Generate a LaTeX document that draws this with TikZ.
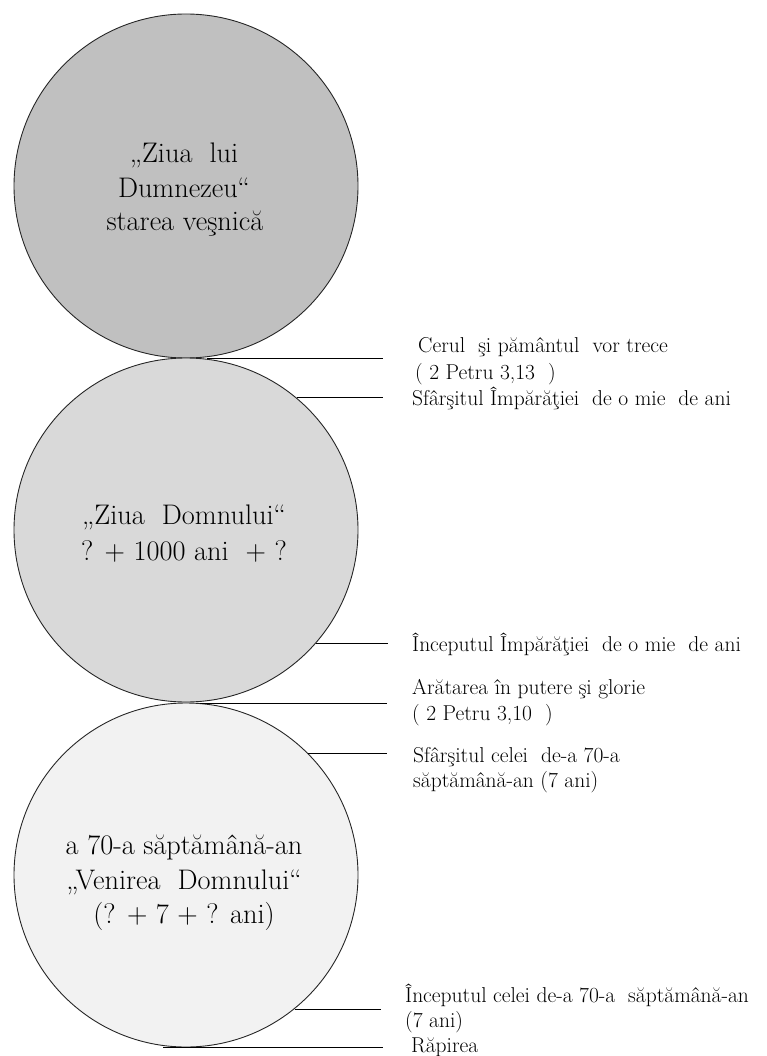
\documentclass[tikz,border=0pt]{standalone}
\begin{document}
\begin{tikzpicture}[x=1pt,y=-1pt,
  circ/.style={circle,draw=black!85,line width=0.9pt,minimum size=344pt,inner sep=0pt},
  big/.style={anchor=base,font=\fontsize{28.3}{34}\selectfont,inner sep=0pt},
  lbl/.style={anchor=base west,font=\fontsize{21.5}{26.5}\selectfont,inner sep=0pt},
  conn/.style={draw=black,line width=0.9pt}]
\useasboundingbox (0,0) rectangle (767,1056);
\definecolor{fillA}{RGB}{192,192,192}
\definecolor{fillB}{RGB}{217,217,217}
\definecolor{fillC}{RGB}{242,242,242}
% circles
\node[circ,fill=fillA] (c1) at (186,186) {};
\node[circ,fill=fillB] (c2) at (186,530) {};
\node[circ,fill=fillC] (c3) at (186,875) {};
% circle texts
\node[big] (a1) at (184,163) {„Ziua\ \ lui};
\node[big] (a2) at (184,198) {Dumnezeu“};
\node[big] (a3) at (185,231) {starea veşnică};
\node[big] (b1) at (184,524) {„Ziua\ \ Domnului“};
\node[big] (b2) at (184,560) {? + 1000 ani\ \ + ?};
\node[big] (d1) at (184,854) {a 70-a săptămână-an};
\node[big] (d2) at (184,889) {„Venirea\ \ Domnului“};
\node[big] (d3) at (184,923) {(? + 7 + ? ani)};
% connector end points
\coordinate (s1) at (207,358);
\coordinate (e1) at (383,358);
\coordinate (e2) at (383,397);
\coordinate (e3) at (388,645);
\coordinate (s4) at (200,703);
\coordinate (e4) at (387,703);
\coordinate (e5) at (387,753);
\coordinate (e6) at (381,1010);
\coordinate (s7) at (163,1047);
\coordinate (e7) at (383,1047);
% connectors
\draw[conn] (s1) -- (e1);
\draw[conn] (c2.50.7) -- (c2.50.7 -| e2);
\draw[conn] (c2.-41.9) -- (c2.-41.9 -| e3);
\draw[conn] (s4) -- (e4);
\draw[conn] (c3.45.2) -- (c3.45.2 -| e5);
\draw[conn] (c3.-51.1) -- (c3.-51.1 -| e6);
\draw[conn] (s7) -- (e7);
% labels
\node[lbl] (l1) at (418,352) {Cerul\ \ şi pământul\ \ vor trece};
\node[lbl] (l2) at (415,379) {( 2 Petru 3,13\ \ )};
\node[lbl] (l3) at (412,405) {Sfârşitul Împărăţiei\ \ de o mie\ \ de ani};
\node[lbl] (l4) at (412,651) {Începutul Împărăţiei\ \ de o mie\ \ de ani};
\node[lbl] (l5) at (412,694) {Arătarea în putere şi glorie};
\node[lbl] (l6) at (412,720) {( 2 Petru 3,10\ \ )};
\node[lbl] (l7) at (413,762) {Sfârşitul celei\ \ de-a 70-a};
\node[lbl] (l8) at (413,787) {săptămână-an (7 ani)};
\node[lbl] (l9) at (405,1002) {Începutul celei de-a 70-a\ \ săptămână-an};
\node[lbl] (l10) at (405,1027) {(7 ani)};
\node[lbl] (l11) at (411,1052) {Răpirea};
\end{tikzpicture}
\end{document}
